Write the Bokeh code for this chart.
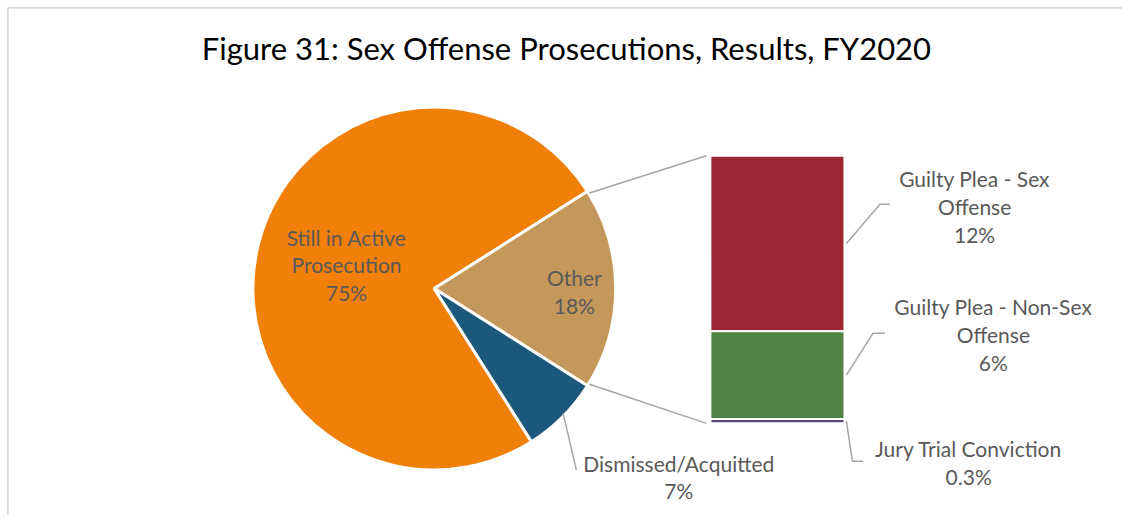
import math
from bokeh.plotting import figure
from bokeh.models import Range1d
from bokeh.core.properties import value
from bokeh.embed import file_html
from bokeh.resources import INLINE

# ---------------- data ----------------
title_text = "Figure 31: Sex Offense Prosecutions, Results, FY2020"
pie_labels = ["Still in Active Prosecution", "Other", "Dismissed/Acquitted"]
pie_values = [75, 18, 7]
pie_colors = ["#F0800A", "#C4985A", "#1B587C"]

bar_labels = ["Guilty Plea - Sex Offense", "Guilty Plea - Non-Sex Offense", "Jury Trial Conviction"]
bar_values = [12, 6, 0.3]
bar_colors = ["#9E2736", "#4E8542", "#604878"]

# label line splits (layout of text)
pie_label_lines = [["Still in Active", "Prosecution"], ["Other"], ["Dismissed/Acquitted"]]
bar_label_lines = [["Guilty Plea - Sex", "Offense"], ["Guilty Plea - Non-Sex", "Offense"], ["Jury Trial Conviction"]]

# ---------------- layout ----------------
W, H = 1122, 515          # figure size (fits window with 8px margin)
RW, RH = 1138, 531        # reference coordinate space
def X(px):
    return px
def Y(py):
    return RH - py

FONT = "Lato"
LABEL_COLOR = "#595959"
LEADER = "#A6A6A6"
FS = "21px"
LINE_H = 28.7

p = figure(width=W, height=H, output_backend="svg", toolbar_location=None,
           x_range=Range1d(0, RW), y_range=Range1d(0, RH),
           x_axis_type=None, y_axis_type=None, min_border=0)
p.grid.visible = False
p.outline_line_color = None
p.background_fill_color = "white"
p.border_fill_color = "white"

# chart-area border (top & left visible)
p.line([X(7.5), RW], [Y(7.5), Y(7.5)], line_color="#D9D9D9", line_width=1.8)
p.line([X(7.5), X(7.5)], [0, Y(7.5)], line_color="#D9D9D9", line_width=1.8)

# title
p.text([X(574)], [Y(49)], text=[title_text], text_font=value(FONT), text_font_size="31px",
       text_color="black", text_align="center", text_baseline="middle")

# ---------------- pie ----------------
cx, cy, r = X(440), Y(297), 184
total = sum(pie_values)
ang = [v / total * 2 * math.pi for v in pie_values]
a_other = ang[1]
a_dis = ang[2]
starts = [a_other / 2, -a_other / 2, -a_other / 2 - a_dis]
ends = [2 * math.pi - a_other / 2 - a_dis, a_other / 2, -a_other / 2]
p.wedge(x=[cx] * 3, y=[cy] * 3, radius=r, start_angle=starts, end_angle=ends,
        fill_color=pie_colors, line_color="white", line_width=3)

# ---------------- bar ----------------
bx0, bx1 = X(720), X(856)
btop, bbot = Y(160), Y(436)
btotal = sum(bar_values)
scale = (btop - bbot) / btotal
tops, bots = [], []
cur = btop
for v in bar_values:
    tops.append(cur)
    cur -= v * scale
    bots.append(cur)
p.quad(left=[bx0] * 3, right=[bx1] * 3, top=tops, bottom=bots,
       fill_color=bar_colors, line_color="white", line_width=2)

# connector lines
ux, uy = cx + r * math.cos(a_other / 2), cy + r * math.sin(a_other / 2)
lx, ly = cx + r * math.cos(-a_other / 2), cy + r * math.sin(-a_other / 2)
p.line([ux + 2, bx0 - 4], [uy, btop], line_color=LEADER, line_width=1.5)
p.line([lx + 2, bx0 - 4], [ly, bbot], line_color=LEADER, line_width=1.5)

def label(x, py_first, lines):
    ys = [Y(py_first + i * LINE_H) for i in range(len(lines))]
    p.text([x] * len(lines), ys, text=lines, text_font=value(FONT), text_font_size=FS,
           text_color=LABEL_COLOR, text_align="center", text_baseline="middle")

# pie labels
label(X(351), 244, pie_label_lines[0] + [f"{pie_values[0]:g}%"])
label(X(582), 286, pie_label_lines[1] + [f"{pie_values[1]:g}%"])
label(X(688), 477, pie_label_lines[2] + [f"{pie_values[2]:g}%"])

# dismissed leader
am = -a_other / 2 - a_dis / 2
sx, sy = cx + (r - 2) * math.cos(am), cy + (r - 2) * math.sin(am)
p.line([sx + 2, X(584)], [sy, Y(484)], line_color=LEADER, line_width=1.5)

# bar labels and leaders
mids = [(t + b) / 2 for t, b in zip(tops, bots)]
lab_pos = [(988, 184), (1007, 316), (982, 462)]
elbows = [((892, 210), (902, 210)), ((885, 343), (897, 343)), ((864, 475), (875, 475))]
for i in range(3):
    lines = bar_label_lines[i] + [f"{bar_values[i]:g}%"]
    label(X(lab_pos[i][0]), lab_pos[i][1], lines)
    (ex, ey), (fx, fy) = elbows[i]
    p.line([bx1 + 2, X(ex), X(fx)], [mids[i], Y(ey), Y(fy)], line_color=LEADER, line_width=1.5)

open("out.html", "w").write(file_html(p, INLINE))
